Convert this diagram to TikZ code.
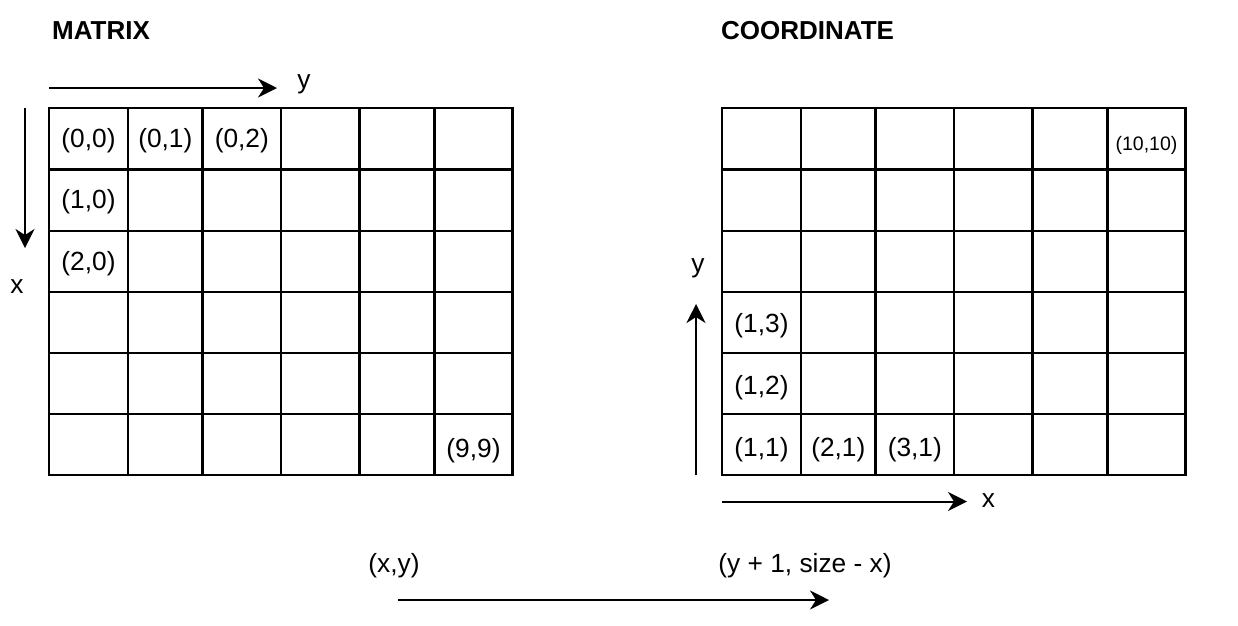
\documentclass[tikz,border=0pt]{standalone}
\usepackage{fontspec}
\setmainfont{Liberation Sans}
\usetikzlibrary{arrows.meta}
\tikzset{
  gridline/.style={line width=2.2pt, line cap=rect},
  arr/.style={line width=2pt, -{Stealth[length=19pt,width=19pt,inset=6pt]}},
  lbl/.style={inner sep=0pt, font=\fontsize{26.3}{30}\selectfont},
  small/.style={inner sep=0pt, font=\fontsize{19.5}{23}\selectfont},
  title/.style={inner sep=0pt, anchor=west, font=\fontsize{26}{30}\selectfont\bfseries},
}
\begin{document}
\begin{tikzpicture}[x=1pt,y=-1pt]
\useasboundingbox (0,0) rectangle (1238,625);
% titles
\node[title] (tmatrix) at (52,31) {MATRIX};
\node[title] (tcoord) at (721,31) {COORDINATE};
% left grid
\foreach \x in {49,128,202.5,281,359.5,434.5,512.5}
  \draw[gridline] (\x,108) -- (\x,475);
\foreach \y in {108,169.5,231,292,353,414,475}
  \draw[gridline] (49,\y) -- (512.5,\y);
% right grid
\foreach \x in {722,801,875.5,954,1032.5,1107.5,1185.5}
  \draw[gridline] (\x,108) -- (\x,475);
\foreach \y in {108,169.5,231,292,353,414,475}
  \draw[gridline] (722,\y) -- (1185.5,\y);
% left cell labels
\node[lbl] (m00) at (88.5,141) {(0,0)};
\node[lbl] (m01) at (165.3,141) {(0,1)};
\node[lbl] (m02) at (241.8,141) {(0,2)};
\node[lbl] (m10) at (88.5,202) {(1,0)};
\node[lbl] (m20) at (88.5,263.5) {(2,0)};
\node[lbl] (m99) at (473.5,451) {(9,9)};
% right cell labels
\node[small] (c1010) at (1146.5,145.5) {(10,10)};
\node[lbl] (c13) at (761.5,326) {(1,3)};
\node[lbl] (c12) at (761.5,387.5) {(1,2)};
\node[lbl] (c11) at (761.5,450) {(1,1)};
\node[lbl] (c21) at (838.3,450) {(2,1)};
\node[lbl] (c31) at (914.8,450) {(3,1)};
% left axes
\coordinate (ly0) at (49,88);
\coordinate (ly1) at (277,88);
\draw[arr] (ly0) -- (ly1);
\node[lbl] (ylab) at (304,84) {y};
\coordinate (lx0) at (25,108);
\coordinate (lx1) at (25,248);
\draw[arr] (lx0) -- (lx1);
\node[lbl] (xlab) at (17,287) {x};
% right axes
\coordinate (ry0) at (696,475);
\coordinate (ry1) at (696,304);
\draw[arr] (ry0) -- (ry1);
\node[lbl] (ylab2) at (698,268.5) {y};
\coordinate (rx0) at (722,501.5);
\coordinate (rx1) at (967,501.5);
\draw[arr] (rx0) -- (rx1);
\node[lbl] (xlab2) at (988.5,500.5) {x};
% bottom mapping
\node[lbl] (from) at (394,566) {(x,y)};
\node[lbl] (to) at (805,566) {(y + 1, size - x)};
\coordinate (b0) at (398,600);
\coordinate (b1) at (829,600);
\draw[arr] (b0) -- (b1);
\end{tikzpicture}
\end{document}
